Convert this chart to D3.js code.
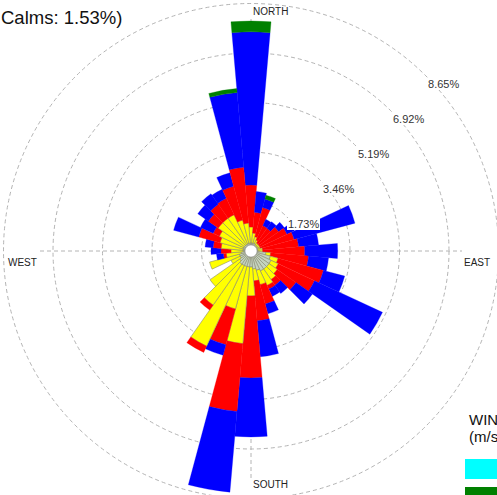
<!DOCTYPE html>
<html>
<head>
<meta charset="utf-8">
<script src="https://cdn.jsdelivr.net/npm/d3@7"></script>
<style>
  html, body { margin: 0; padding: 0; background: #fff; }
  svg { display: block; }
  text { font-family: "Liberation Sans", Arial, sans-serif; }
</style>
</head>
<body>
<script>
// Wind directions (degrees, clockwise from north), one 10-degree sector each
const directions = d3.range(0, 360, 10);

// Wind speed classes, slowest first
const speedClasses = ["0.50 - 2.10", "2.10 - 3.60", "3.60 - 5.70", "5.70 - 8.80", "8.80 - 11.10", ">= 11.10"];
const classColors = ["#c4d4c0", "#ffff00", "#ff0000", "#0000ff", "#008000", "#00ffff"];

// Frequency (%) of each speed class per direction sector
const freqClass1 = [0.28,0.28,0.28,0.28,0.24,0.24,0.24,0.24,0.24,0.24,0.52,0.70,0.77,0.77,0.77,0.77,0.70,0.63,
                    0.56,0.56,0.56,0.56,0.56,0.49,0.42,0.42,0.35,0.28,0.28,0.28,0.28,0.28,0.28,0.28,0.28,0.28];
const freqClass2 = [0.56,0.35,0.24,0.14,0.10,0.10,0.10,0.10,0.17,0.17,0.17,0.28,0.28,0.35,0.45,0.56,0.52,0.42,
                    1.01,2.69,1.54,3.11,1.75,1.26,0.35,1.08,0.52,0.42,0.77,0.84,0.94,1.12,1.12,1.12,0.84,0.70];
const freqClass3 = [1.47,0.73,1.05,0.56,0.63,0.84,1.05,1.22,1.26,1.47,1.33,1.64,1.40,0.80,0.24,0.14,0.70,1.40,
                    2.87,2.38,1.29,0.24,0.21,0.00,0.00,0.00,0.10,0.35,0.28,0.77,0.24,0.42,0.59,0.63,1.22,1.96];
const freqClass4 = [5.35,0.73,0.31,0.24,0.28,0.24,0.28,2.20,0.70,1.15,0.70,0.77,2.62,0.70,0.35,0.28,0.35,1.26,
                    2.06,2.83,0.38,0.00,0.00,0.00,0.00,0.00,0.24,0.35,0.28,0.91,0.49,0.45,0.45,0.35,0.49,2.62];
const freqClass5 = [0.38,0.00,0.14,0.00,0.00,0.00,0.00,0.00,0.00,0.00,0.00,0.00,0.00,0.00,0.00,0.00,0.00,0.00,
                    0.00,0.00,0.00,0.00,0.00,0.00,0.00,0.00,0.00,0.00,0.00,0.00,0.00,0.00,0.00,0.00,0.00,0.14];
const freqClass6 = directions.map(() => 0);

// Ring values (%) and labels
const ringTicks = [1.73, 3.46, 5.19, 6.92, 8.65];
const ringLabels = ["1.73%", "3.46%", "5.19%", "6.92%", "8.65%"];
const compassLabels = ["NORTH", "EAST", "SOUTH", "WEST"];
const calmsText = "Calms: 1.53%)";
const legendTitle = ["WIND SPEED", "(m/s)"];

const width = 497, height = 495;
const cx = 251, cy = 251;
const holeRadius = 6;

const svg = d3.select("body").append("svg")
  .attr("width", width).attr("height", height)
  .attr("viewBox", `0 0 ${width} ${height}`);

const r = d3.scaleLinear().domain([0, 8.65]).range([0, 247.5]);
const toRad = d => d * Math.PI / 180;

const g = svg.append("g").attr("transform", `translate(${cx},${cy})`);

// Dashed rings and axis cross
const grid = g.append("g").attr("fill", "none").attr("stroke", "#b4b4b4")
  .attr("stroke-width", 1).attr("stroke-dasharray", "4,3");
grid.selectAll("circle").data(ringTicks).join("circle").attr("r", d => r(d));
grid.append("line").attr("x1", -211).attr("x2", 211).attr("y1", 0).attr("y2", 0);
grid.append("line").attr("y1", -232).attr("y2", 229).attr("x1", 0).attr("x2", 0);

// Stacked bars per direction
const classes = [freqClass1, freqClass2, freqClass3, freqClass4, freqClass5, freqClass6];
const segments = [];
directions.forEach((dir, i) => {
  let acc = 0;
  classes.forEach((arr, k) => {
    const v = arr[i];
    if (v > 0) segments.push({ dir, k, r0: Math.max(holeRadius, r(acc)), r1: r(acc + v) });
    acc += v;
  });
});

const arc = d3.arc()
  .innerRadius(d => d.r0).outerRadius(d => d.r1)
  .startAngle(d => toRad(d.dir - 5)).endAngle(d => toRad(d.dir + 5));

g.append("g").selectAll("path").data(segments).join("path")
  .attr("d", arc)
  .attr("fill", d => classColors[d.k])
  .attr("stroke", d => d.k <= 1 ? "#8a8a70" : classColors[d.k])
  .attr("stroke-width", d => d.k <= 1 ? 0.6 : 0.3);

// Calm circle
g.append("circle").attr("r", holeRadius).attr("fill", "#fff").attr("stroke", "#999").attr("stroke-width", 0.6);

// Ring labels along the upper-right diagonal, on a white patch
const ringLabel = g.append("g").selectAll("g").data(ringTicks).join("g")
  .attr("transform", d => `translate(${r(d) * Math.SQRT1_2 + 2},${-r(d) * Math.SQRT1_2 + 12})`);
ringLabel.append("rect").attr("x", -1).attr("y", -10).attr("width", 33).attr("height", 12).attr("fill", "#fff");
ringLabel.append("text").attr("font-size", 11).attr("fill", "#333").text((d, i) => ringLabels[i]);

// Compass labels
const compassPos = [[2, -236], [213, 15], [2, 237], [-243, 15]];
g.append("g").selectAll("text").data(compassLabels).join("text")
  .attr("x", (d, i) => compassPos[i][0]).attr("y", (d, i) => compassPos[i][1])
  .attr("font-size", 10).attr("fill", "#222")
  .text(d => d);

// Calms note
svg.append("text").attr("x", 1).attr("y", 24).attr("font-size", 18.5).attr("fill", "#111").text(calmsText);

// Legend (runs off the right edge)
const legend = svg.append("g").attr("transform", "translate(469,0)");
legend.selectAll("text").data(legendTitle).join("text")
  .attr("x", 0).attr("y", (d, i) => 425 + i * 17)
  .attr("font-size", 15).attr("fill", "#111").text(d => d);
const legendOrder = [5, 4, 3, 2, 1, 0];
legend.selectAll("rect").data(legendOrder).join("rect")
  .attr("x", -4).attr("y", (d, i) => 459 + i * 28)
  .attr("width", 40).attr("height", 20)
  .attr("fill", d => classColors[d]);
</script>
</body>
</html>
